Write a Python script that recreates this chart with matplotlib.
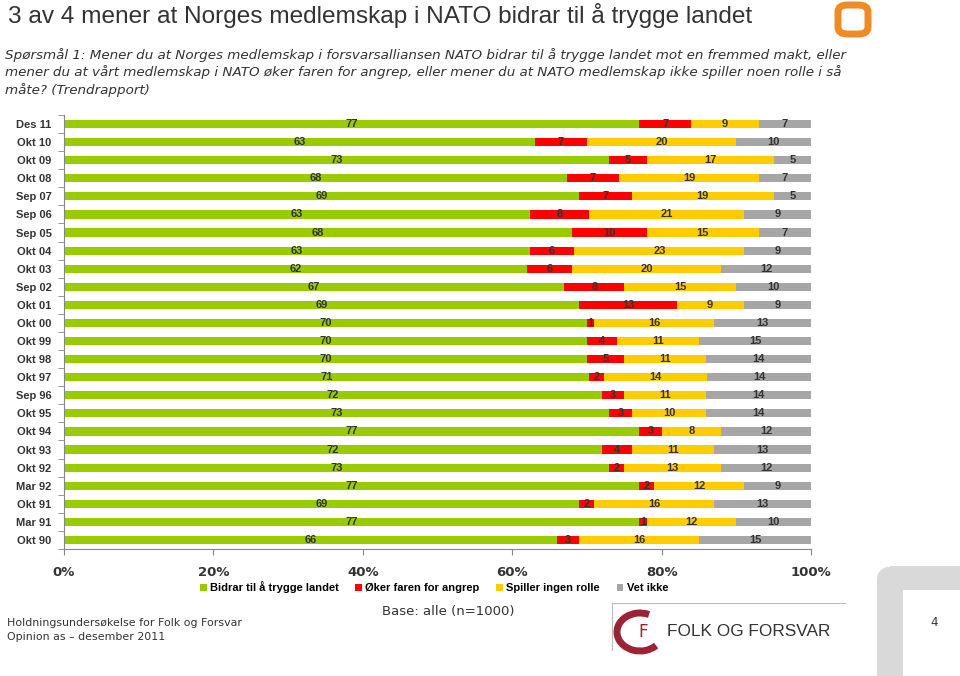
import numpy as np
import matplotlib.pyplot as plt
from matplotlib.patches import FancyBboxPatch, Arc, Rectangle

periods = ["Des 11", "Okt 10", "Okt 09", "Okt 08", "Sep 07", "Sep 06", "Sep 05", "Okt 04",
           "Okt 03", "Sep 02", "Okt 01", "Okt 00", "Okt 99", "Okt 98", "Okt 97", "Sep 96",
           "Okt 95", "Okt 94", "Okt 93", "Okt 92", "Mar 92", "Okt 91", "Mar 91", "Okt 90"]
bidrar = [77, 63, 73, 68, 69, 63, 68, 63, 62, 67, 69, 70, 70, 70, 71, 72, 73, 77, 72, 73, 77, 69, 77, 66]
oker = [7, 7, 5, 7, 7, 8, 10, 6, 6, 8, 13, 1, 4, 5, 2, 3, 3, 3, 4, 2, 2, 2, 1, 3]
ingen = [9, 20, 17, 19, 19, 21, 15, 23, 20, 15, 9, 16, 11, 11, 14, 11, 10, 8, 11, 13, 12, 16, 12, 16]
vet_ikke = [7, 10, 5, 7, 5, 9, 7, 9, 12, 10, 9, 13, 15, 14, 14, 14, 14, 12, 13, 12, 9, 13, 10, 15]

series = ["Bidrar til å trygge landet", "Øker faren for angrep", "Spiller ingen rolle", "Vet ikke"]
colors = ["#99CC00", "#FF0000", "#FFCC00", "#A6A6A6"]

data = np.array([bidrar, oker, ingen, vet_ikke], dtype=float)
share = data / data.sum(axis=0)

fig = plt.figure(figsize=(9.6, 6.76), dpi=100)
ax = fig.add_axes([64 / 960, 1 - 549 / 676, (811 - 64) / 960, (549 - 115) / 676])

y = np.arange(len(periods))
left = np.zeros(len(periods))
for i in range(4):
    ax.barh(y, share[i], left=left, height=0.45, color=colors[i], label=series[i])
    for j in range(len(periods)):
        ax.text(left[j] + share[i][j] / 2, y[j], str(int(data[i][j])), ha="center", va="center",
                fontsize=8, fontweight="bold", color="#333333", family="Liberation Sans")
    left += share[i]

ax.set_ylim(len(periods) - 0.5, -0.5)
ax.set_xlim(0, 1)
ax.set_yticks(y)
ax.set_yticklabels(periods, fontsize=8, fontweight="bold", family="Liberation Sans", color="#333333")
ax.set_yticks(np.arange(len(periods) + 1) - 0.5, minor=True)
ax.tick_params(axis="y", which="major", length=0, pad=9)
ax.tick_params(axis="y", which="minor", length=4, color="#868686")
ax.set_xticks(np.linspace(0, 1, 6))
ax.set_xticklabels(["0%", "20%", "40%", "60%", "80%", "100%"], fontsize=9.5, fontweight="bold",
                   color="#333333")
ax.tick_params(axis="x", length=4, color="#868686", pad=8)
for s in ["top", "right"]:
    ax.spines[s].set_visible(False)
for s in ["left", "bottom"]:
    ax.spines[s].set_color("#868686")

fig.legend(loc="center", bbox_to_anchor=(434 / 960, 1 - 587 / 676), ncol=4, frameon=False,
           handlelength=0.6, handleheight=0.6, handletextpad=0.3, columnspacing=1.5,
           prop={"family": "Liberation Sans", "size": 8, "weight": "bold"})

# header
fig.text(8 / 960, 1 - 16 / 676, "3 av 4 mener at Norges medlemskap i NATO bidrar til å trygge landet",
         fontsize=17.6, color="#333333", va="center", family="Liberation Sans")
fig.text(5 / 960, 1 - 48 / 676,
         "Spørsmål 1: Mener du at Norges medlemskap i forsvarsalliansen NATO bidrar til å trygge landet mot en fremmed makt, eller\n"
         "mener du at vårt medlemskap i NATO øker faren for angrep, eller mener du at NATO medlemskap ikke spiller noen rolle i så\n"
         "måte? (Trendrapport)",
         fontsize=9.7, style="italic", color="#333333", va="top", linespacing=1.32)
fig.patches.append(FancyBboxPatch((838 / 960, 1 - 34 / 676), 30 / 960, 29 / 676,
                                  boxstyle="round,pad=0,rounding_size=0.01", transform=fig.transFigure,
                                  facecolor="white", edgecolor="#F08A24", linewidth=5))

# footer
fig.text(448 / 960, 1 - 612 / 676, "Base: alle (n=1000)", fontsize=9.5, color="#333333", ha="center", va="center")
fig.text(7 / 960, 1 - 623 / 676, "Holdningsundersøkelse for Folk og Forsvar", fontsize=7.9, color="#333333", va="center")
fig.text(7 / 960, 1 - 637 / 676, "Opinion as \u2013 desember 2011", fontsize=7.9, color="#333333", va="center")
fig.text(930 / 960, 1 - 623 / 676, "4", fontsize=8.5, color="#333333", va="center")

fig.lines.append(plt.Line2D([612 / 960, 845 / 960], [1 - 603 / 676, 1 - 603 / 676], transform=fig.transFigure,
                            color="#BBBBBB", linewidth=0.8))
fig.lines.append(plt.Line2D([612 / 960, 612 / 960], [1 - 603 / 676, 1 - 650 / 676], transform=fig.transFigure,
                            color="#BBBBBB", linewidth=0.8))
fig.patches.append(Arc((640 / 960, 1 - 632 / 676), 46 / 960, 38 / 676, theta1=70, theta2=310,
                       transform=fig.transFigure, color="#9B2335", linewidth=5))
fig.text(643 / 960, 1 - 632 / 676, "F", fontsize=12, color="#9B2335", ha="center", va="center")
fig.text(667 / 960, 1 - 632 / 676, "FOLK OG FORSVAR", fontsize=12.4, color="#333333", va="center",
         family="Liberation Sans")

# grey corner decoration
fig.patches.append(FancyBboxPatch((877 / 960, -0.05), 26 / 960, (676 - 566) / 676 + 0.05,
                                  boxstyle="round,pad=0,rounding_size=0.02", transform=fig.transFigure,
                                  facecolor="#D9D9D9", edgecolor="none"))
fig.patches.append(Rectangle((890 / 960, 1 - 590 / 676), 80 / 960, 24 / 676, transform=fig.transFigure,
                             facecolor="#D9D9D9", edgecolor="none"))

fig.savefig("out.png", dpi=100)
